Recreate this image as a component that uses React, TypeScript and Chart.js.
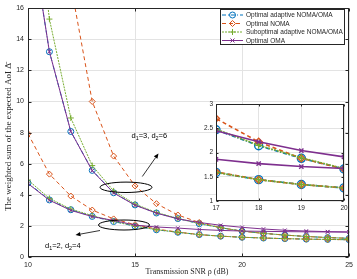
import React, { useEffect, useRef } from 'react';
import { Chart, registerables } from 'chart.js';

Chart.register(...registerables);

// ---------- data ----------
const snr = [10, 11, 12, 13, 14, 15, 16, 17, 18, 19, 20, 21, 22, 23, 24, 25];

// case d1=3, d2=6
const adaptiveA = [22, 13.2, 8.07, 5.57, 4.13, 3.35, 2.83, 2.47, 2.14, 1.88, 1.66, 1.52, 1.41, 1.32, 1.25, 1.2];
const nomaA = [60, 32, 17.5, 10.0, 6.49, 4.57, 3.43, 2.7, 2.22, 1.88, 1.66, 1.52, 1.41, 1.32, 1.25, 1.2];
const suboptA = [27, 15.3, 8.94, 5.88, 4.25, 3.4, 2.86, 2.48, 2.15, 1.89, 1.67, 1.52, 1.41, 1.32, 1.25, 1.2];
const omaA = [22, 13.2, 8.07, 5.55, 4.12, 3.33, 2.82, 2.45, 2.22, 2.04, 1.91, 1.8, 1.72, 1.67, 1.63, 1.61];

// case d1=2, d2=4
const adaptiveB = [4.76, 3.67, 3.04, 2.61, 2.28, 1.98, 1.75, 1.59, 1.44, 1.34, 1.27, 1.22, 1.18, 1.15, 1.13, 1.11];
const nomaB = [7.93, 5.33, 3.92, 3.02, 2.45, 2.08, 1.8, 1.6, 1.44, 1.34, 1.27, 1.22, 1.18, 1.15, 1.13, 1.11];
const suboptB = [4.95, 3.77, 3.08, 2.66, 2.3, 1.99, 1.76, 1.59, 1.44, 1.34, 1.27, 1.22, 1.18, 1.15, 1.13, 1.11];
const omaB = [4.72, 3.65, 3.0, 2.6, 2.35, 2.05, 1.93, 1.86, 1.77, 1.71, 1.67, 1.65, 1.63, 1.62, 1.61, 1.6];

const legendLabels = ['Optimal adaptive NOMA/OMA', 'Optimal NOMA', 'Suboptimal adaptive NOMA/OMA', 'Optimal OMA'];
const mainXTicks = [10, 15, 20, 25];
const mainYTicks = [0, 2, 4, 6, 8, 10, 12, 14, 16];
const insetXTicks = [17, 18, 19, 20];
const insetYTicks = [1, 1.5, 2, 2.5, 3];
const xTitle = 'Transmission SNR \u03C1 (dB)';
const yTitle = 'The weighted sum of the expected AoI \u0394\u0304';
const noteA = [['d', false], ['1', true], ['=3, d', false], ['2', true], ['=6', false]] as [string, boolean][];
const noteB = [['d', false], ['1', true], ['=2, d', false], ['2', true], ['=4', false]] as [string, boolean][];

// ---------- styles ----------
const BLUE = '#0072BD';
const ORANGE = '#D95319';
const GREEN = '#77AC30';
const PURPLE = '#7E2F8E';
const AX = '#262626';
const GRID = '#e3e3e3';
const SANS = '"Liberation Sans", Arial, sans-serif';
const SERIF = '"Liberation Serif", "Times New Roman", serif';

const styles = [
  { color: BLUE, dash: [4, 2, 1, 2], point: 'circle', order: 4 },
  { color: ORANGE, dash: [4, 3], point: 'rectRot', order: 3 },
  { color: GREEN, dash: [2, 1], point: 'cross', order: 2 },
  { color: PURPLE, dash: [], point: 'crossRot', order: 1 },
];

function makeDatasets(inset: boolean) {
  const groups = [
    [adaptiveA, nomaA, suboptA, omaA],
    [adaptiveB, nomaB, suboptB, omaB],
  ];
  const sets: any[] = [];
  groups.forEach((g) => {
    g.forEach((arr, k) => {
      const s = styles[k];
      const r = s.point === 'circle' ? (inset ? 4 : 3) : s.point === 'crossRot' ? (inset ? 3 : 2.5) : (inset ? 3.5 : 3);
      sets.push({
        label: legendLabels[k],
        data: snr.map((x, i) => ({ x, y: arr[i] })),
        borderColor: s.color,
        backgroundColor: 'rgba(0,0,0,0)',
        borderWidth: inset ? 1.6 : 1,
        borderDash: s.dash,
        pointStyle: s.point,
        pointRadius: r,
        pointBorderWidth: inset ? 1.4 : 1,
        pointBorderColor: s.color,
        pointBackgroundColor: 'rgba(0,0,0,0)',
        tension: 0,
        order: s.order,
      });
    });
  });
  return sets;
}

function boxPlugin(xt: number[], yt: number[], tick: number, white: boolean) {
  return {
    id: 'boxTicks',
    beforeDraw(chart: any) {
      if (!white) return;
      const { ctx, chartArea: a } = chart;
      ctx.save();
      ctx.fillStyle = '#ffffff';
      ctx.fillRect(a.left, a.top, a.right - a.left, a.bottom - a.top);
      ctx.restore();
    },
    afterDraw(chart: any) {
      const { ctx, chartArea: a, scales } = chart;
      ctx.save();
      ctx.strokeStyle = AX;
      ctx.lineWidth = 1;
      const L = Math.round(a.left) + 0.5, R = Math.round(a.right) - 0.5;
      const T = Math.round(a.top) + 0.5, B = Math.round(a.bottom) - 0.5;
      ctx.strokeRect(L, T, R - L, B - T);
      ctx.beginPath();
      xt.forEach((v) => {
        const px = Math.round(scales.x.getPixelForValue(v)) + 0.5;
        ctx.moveTo(px, B); ctx.lineTo(px, B - tick);
        ctx.moveTo(px, T); ctx.lineTo(px, T + tick);
      });
      yt.forEach((v) => {
        const py = Math.round(scales.y.getPixelForValue(v)) + 0.5;
        ctx.moveTo(L, py); ctx.lineTo(L + tick, py);
        ctx.moveTo(R, py); ctx.lineTo(R - tick, py);
      });
      ctx.stroke();
      ctx.restore();
    },
  };
}

function drawSub(ctx: any, parts: [string, boolean][], x: number, y: number, size: number) {
  let cx = x;
  ctx.textBaseline = 'middle';
  ctx.textAlign = 'left';
  parts.forEach(([t, sub]) => {
    ctx.font = `${sub ? size * 0.72 : size}px ${SANS}`;
    ctx.fillText(t, cx, sub ? y + size * 0.35 : y);
    cx += ctx.measureText(t).width;
  });
}

function arrow(ctx: any, x1: number, y1: number, x2: number, y2: number) {
  const ang = Math.atan2(y2 - y1, x2 - x1);
  const hl = 5, hw = 2.2;
  const bx = x2 - hl * Math.cos(ang), by = y2 - hl * Math.sin(ang);
  ctx.beginPath();
  ctx.moveTo(x1, y1);
  ctx.lineTo(bx, by);
  ctx.stroke();
  ctx.beginPath();
  ctx.moveTo(x2, y2);
  ctx.lineTo(bx + hw * Math.sin(ang), by - hw * Math.cos(ang));
  ctx.lineTo(bx - hw * Math.sin(ang), by + hw * Math.cos(ang));
  ctx.closePath();
  ctx.fill();
}

const annotPlugin = {
  id: 'annot',
  afterDraw(chart: any) {
    const ctx = chart.ctx;
    ctx.save();
    ctx.strokeStyle = '#000';
    ctx.fillStyle = '#000';
    ctx.lineWidth = 1;
    ctx.setLineDash([]);
    ctx.beginPath();
    ctx.ellipse(126, 187.3, 26, 5.2, 0, 0, Math.PI * 2);
    ctx.stroke();
    ctx.beginPath();
    ctx.ellipse(124, 225, 25.5, 5, 0, 0, Math.PI * 2);
    ctx.stroke();
    ctx.lineWidth = 0.8;
    arrow(ctx, 142.3, 176.5, 158.5, 153.5);
    arrow(ctx, 100, 230.5, 75.5, 235);
    ctx.fillStyle = '#000';
    drawSub(ctx, noteA, 131.5, 136, 7.5);
    drawSub(ctx, noteB, 45, 245.5, 7.5);

    // axis titles
    ctx.fillStyle = AX;
    ctx.font = `8px ${SERIF}`;
    ctx.textAlign = 'center';
    ctx.textBaseline = 'middle';
    ctx.fillText(xTitle, 187, 271.5);
    ctx.save();
    ctx.translate(8.5, 137);
    ctx.rotate(-Math.PI / 2);
    ctx.font = `9px ${SERIF}`;
    ctx.fillText(yTitle, 0, 0);
    ctx.restore();

    // legend
    const lx = 220.5, ly = 9.5, lw = 124, lh = 35;
    ctx.fillStyle = '#fff';
    ctx.fillRect(lx, ly, lw, lh);
    ctx.strokeStyle = AX;
    ctx.lineWidth = 1;
    ctx.strokeRect(lx, ly, lw, lh);
    const rows = [15, 23.5, 32, 40.5];
    styles.forEach((s, k) => {
      const y = rows[k];
      ctx.strokeStyle = s.color;
      ctx.lineWidth = 1;
      ctx.setLineDash(s.dash);
      ctx.beginPath();
      ctx.moveTo(222, y);
      ctx.lineTo(243, y);
      ctx.stroke();
      ctx.setLineDash([]);
      const cx = 232.5;
      ctx.beginPath();
      if (s.point === 'circle') {
        ctx.arc(cx, y, 3, 0, Math.PI * 2);
      } else if (s.point === 'rectRot') {
        ctx.moveTo(cx, y - 3); ctx.lineTo(cx + 3, y); ctx.lineTo(cx, y + 3); ctx.lineTo(cx - 3, y); ctx.closePath();
      } else if (s.point === 'cross') {
        ctx.moveTo(cx - 3, y); ctx.lineTo(cx + 3, y); ctx.moveTo(cx, y - 3); ctx.lineTo(cx, y + 3);
      } else {
        ctx.moveTo(cx - 2, y - 2); ctx.lineTo(cx + 2, y + 2); ctx.moveTo(cx + 2, y - 2); ctx.lineTo(cx - 2, y + 2);
      }
      ctx.stroke();
      ctx.fillStyle = AX;
      ctx.font = `6.5px ${SANS}`;
      ctx.textAlign = 'left';
      ctx.textBaseline = 'middle';
      ctx.fillText(legendLabels[k], 246, y + 0.5);
    });
    ctx.restore();
  },
};

function scaleOpts(min: number, max: number, ticks: number[], size: number, pad: number, fitKey: 'width' | 'height', fitVal: number) {
  return {
    type: 'linear',
    min,
    max,
    afterBuildTicks(scale: any) {
      scale.ticks = ticks.map((v) => ({ value: v }));
    },
    afterFit(scale: any) {
      scale[fitKey] = fitVal;
    },
    ticks: {
      color: AX,
      font: { family: SANS, size },
      padding: pad,
      autoSkip: false,
      maxRotation: 0,
      callback: (v: any) => String(v),
    },
    grid: { color: GRID, lineWidth: 1, drawTicks: false },
    border: { display: false },
  };
}

export default function App() {
  const mainRef = useRef<HTMLCanvasElement>(null);
  const insetRef = useRef<HTMLCanvasElement>(null);

  useEffect(() => {
    const main = new Chart(mainRef.current as HTMLCanvasElement, {
      type: 'line',
      data: { datasets: makeDatasets(false) },
      options: {
        animation: false,
        responsive: false,
        devicePixelRatio: 1,
        layout: { padding: { left: 0, top: 4, right: 7, bottom: 0 } },
        plugins: { legend: { display: false }, tooltip: { enabled: false } },
        scales: {
          x: scaleOpts(10, 25, mainXTicks, 7, 4, 'height', 22) as any,
          y: scaleOpts(0, 16, mainYTicks, 7, 4, 'width', 28) as any,
        },
      },
      plugins: [boxPlugin(mainXTicks, mainYTicks, 3, false), annotPlugin],
    });
    const inset = new Chart(insetRef.current as HTMLCanvasElement, {
      type: 'line',
      data: { datasets: makeDatasets(true) },
      options: {
        animation: false,
        responsive: false,
        devicePixelRatio: 1,
        layout: { padding: { left: 200, top: 104, right: 13, bottom: 66 } },
        plugins: { legend: { display: false }, tooltip: { enabled: false } },
        scales: {
          x: scaleOpts(17, 20, insetXTicks, 6.5, 3, 'height', 12) as any,
          y: scaleOpts(1, 3, insetYTicks, 6.5, 3, 'width', 16) as any,
        },
      },
      plugins: [boxPlugin(insetXTicks, insetYTicks, 2, true)],
    });
    return () => {
      main.destroy();
      inset.destroy();
    };
  }, []);

  return (
    <div style={{ position: 'absolute', left: 0, top: 0, width: 357, height: 279, background: '#fff' }}>
      <canvas ref={mainRef} width={357} height={279} style={{ position: 'absolute', left: 0, top: 0, width: 357, height: 279 }} />
      <canvas ref={insetRef} width={357} height={279} style={{ position: 'absolute', left: 0, top: 0, width: 357, height: 279 }} />
    </div>
  );
}
